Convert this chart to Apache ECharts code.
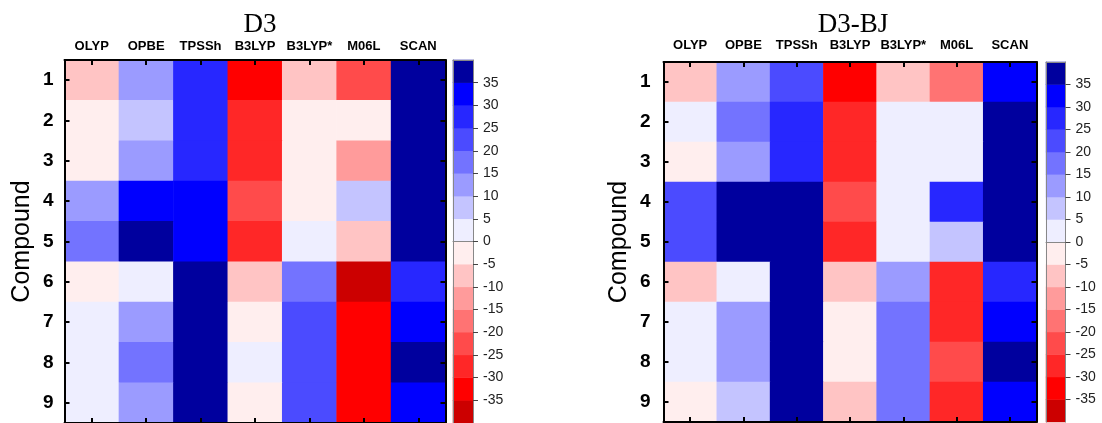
<!DOCTYPE html>
<html>
<head>
<meta charset="utf-8">
<script src="https://cdn.jsdelivr.net/npm/echarts@6/dist/echarts.min.js"></script>
<style>
    html, body { margin: 0; padding: 0; background: #ffffff; }
    #chart { width: 1102px; height: 423px; }
</style>
</head>
<body>
<div id="chart"></div>
<script>
// functionals on the x axis, compounds on the y axis
const methods = ['OLYP', 'OPBE', 'TPSSh', 'B3LYP', 'B3LYP*', 'M06L', 'SCAN'];
const compounds = ['1', '2', '3', '4', '5', '6', '7', '8', '9'];

// one row per compound, one column per method
const d3Values = [
    [-7.5, 12.1, 27.3, -32.4, -7.8, -22.1, 38.6],
    [-2.2, 7.4, 27.1, -27.6, -2.1, -2.4, 40.2],
    [-2.4, 12.3, 27.4, -27.2, -2.3, -12.6, 39.5],
    [12.4, 32.2, 32.5, -22.3, -2.2, 7.3, 41.0],
    [17.2, 38.8, 32.6, -27.4, 2.3, -7.6, 39.8],
    [-2.1, 2.4, 38.4, -7.2, 17.5, -37.9, 27.2],
    [2.2, 12.5, 39.1, -2.6, 22.4, -32.3, 32.7],
    [2.4, 17.3, 40.3, 2.1, 22.2, -32.8, 37.5],
    [2.1, 12.2, 40.6, -2.3, 22.6, -32.5, 32.4]
];
const d3bjValues = [
    [-7.3, 12.4, 22.5, -32.6, -7.4, -17.2, 32.3],
    [2.3, 17.4, 27.2, -27.3, 2.2, 2.1, 40.1],
    [-2.5, 12.6, 27.5, -27.1, 2.4, 2.2, 39.7],
    [22.3, 38.2, 38.9, -22.4, 2.1, 27.3, 40.4],
    [22.1, 38.5, 39.3, -27.5, 2.5, 7.6, 40.8],
    [-7.6, 2.2, 39.6, -7.1, 12.2, -27.4, 27.6],
    [2.5, 12.1, 40.2, -2.2, 17.3, -27.2, 32.2],
    [2.2, 12.5, 40.7, -2.4, 17.6, -22.6, 38.1],
    [-2.3, 7.2, 40.1, -7.5, 17.1, -27.7, 32.6]
];

// colour scale: bin edges and bin colours (bottom to top)
const levelEdges = [-40, -35, -30, -25, -20, -15, -10, -5, 0, 5, 10, 15, 20, 25, 30, 35, 40];
const levelColors = [
    '#cc0000', '#ff0000', '#ff2727', '#ff4b4b', '#ff7373', '#ff9b9b', '#ffc4c4', '#ffeeee',
    '#eeeeff', '#c4c4ff', '#9b9bff', '#7373ff', '#4b4bff', '#2727ff', '#0000ff', '#00009e'
];
const tickLabels = levelEdges.slice(1, -1);

const sans = 'Liberation Sans';

const toCells = (rows) => {
    let out = [];
    rows.forEach((row, r) => {
        row.forEach((v, c) => out.push([c, r, v]));
    });
    return out;
};

const pieces = levelColors.map((color, i) => {
    let p = { color: color };
    if (i > 0) p.gte = levelEdges[i];
    if (i < levelColors.length - 1) p.lt = levelEdges[i + 1];
    return p;
});

const binIndex = levelColors.map((c, i) => String(i));
const binCells = levelColors.map((c, i) => [0, i, (levelEdges[i] + levelEdges[i + 1]) / 2]);

// frame axis helpers
const frameLine = { show: true, lineStyle: { color: '#000', width: 2 } };
const innerTick = {
    show: true, inside: true, length: 5, interval: 0, alignWithLabel: true,
    lineStyle: { color: '#000', width: 2 }
};

const plotX = (grid, pos, labelGap) => ({
    type: 'category', gridIndex: grid, position: pos, data: methods, z: 5,
    axisLine: frameLine, axisTick: innerTick,
    axisLabel: {
        show: pos === 'top', interval: 0, margin: labelGap, color: '#000',
        fontFamily: sans, fontWeight: 'bold', fontSize: 13
    },
    splitLine: { show: false }
});
const plotY = (grid, pos, labelGap, nameGap) => ({
    type: 'category', gridIndex: grid, position: pos, data: compounds, inverse: true, z: 5,
    axisLine: frameLine, axisTick: innerTick,
    name: pos === 'left' ? 'Compound' : '', nameLocation: 'middle', nameGap: nameGap,
    nameTextStyle: { fontFamily: sans, fontSize: 25, color: '#000' },
    axisLabel: {
        show: pos === 'left', interval: 0, margin: labelGap, color: '#000',
        fontFamily: sans, fontWeight: 'bold', fontSize: 19
    },
    splitLine: { show: false }
});
const barLine = { show: true, lineStyle: { color: '#888', width: 1 } };
const barX = (grid, pos) => ({
    type: 'category', gridIndex: grid, position: pos, data: [''], z: 5,
    axisLine: barLine, axisTick: { show: false }, axisLabel: { show: false }
});
const barY = (grid) => ({
    type: 'category', gridIndex: grid, position: 'left', data: binIndex, z: 5,
    axisLine: barLine, axisTick: { show: false }, axisLabel: { show: false }
});
const barValueY = (grid) => ({
    type: 'value', gridIndex: grid, position: 'right', min: -40, max: 40, interval: 5, z: 5,
    axisLine: barLine,
    axisTick: { show: true, length: 5, customValues: tickLabels, lineStyle: { color: '#444', width: 1 } },
    axisLabel: {
        customValues: tickLabels, margin: 10, color: '#222',
        fontFamily: sans, fontSize: 14
    },
    splitLine: { show: false }
});

const option = {
    animation: false,
    backgroundColor: '#ffffff',
    title: [
        { text: 'D3', left: 255, top: 6, textAlign: 'center',
          textStyle: { fontFamily: 'Liberation Serif', fontSize: 27, fontWeight: 'normal', color: '#000' } },
        { text: 'D3-BJ', left: 848, top: 6, textAlign: 'center',
          textStyle: { fontFamily: 'Liberation Serif', fontSize: 27, fontWeight: 'normal', color: '#000' } }
    ],
    grid: [
        { left: 64.5, top: 60, width: 381, height: 365.5 },
        { left: 453, top: 60, width: 20, height: 365.5 },
        { left: 663.5, top: 62, width: 373, height: 360 },
        { left: 1046, top: 62, width: 19.5, height: 360 }
    ],
    xAxis: [
        plotX(0, 'top', 7), plotX(0, 'bottom', 7),
        barX(1, 'bottom'), barX(1, 'top'),
        plotX(2, 'top', 10), plotX(2, 'bottom', 10),
        barX(3, 'bottom'), barX(3, 'top')
    ],
    yAxis: [
        plotY(0, 'left', 11, 30), plotY(0, 'right', 11, 30),
        barY(1), barValueY(1),
        plotY(2, 'left', 13, 32), plotY(2, 'right', 13, 32),
        barY(3), barValueY(3)
    ],
    visualMap: {
        type: 'piecewise', show: false, dimension: 2,
        seriesIndex: [0, 1, 2, 3], pieces: pieces
    },
    series: [
        { name: 'D3', type: 'heatmap', xAxisIndex: 0, yAxisIndex: 0,
          data: toCells(d3Values), emphasis: { disabled: true } },
        { name: 'D3 scale', type: 'heatmap', xAxisIndex: 2, yAxisIndex: 2,
          data: binCells, emphasis: { disabled: true } },
        { name: 'D3-BJ', type: 'heatmap', xAxisIndex: 4, yAxisIndex: 4,
          data: toCells(d3bjValues), emphasis: { disabled: true } },
        { name: 'D3-BJ scale', type: 'heatmap', xAxisIndex: 6, yAxisIndex: 6,
          data: binCells, emphasis: { disabled: true } }
    ]
};

const myChart = echarts.init(document.getElementById('chart'));
myChart.setOption(option);
</script>
</body>
</html>
